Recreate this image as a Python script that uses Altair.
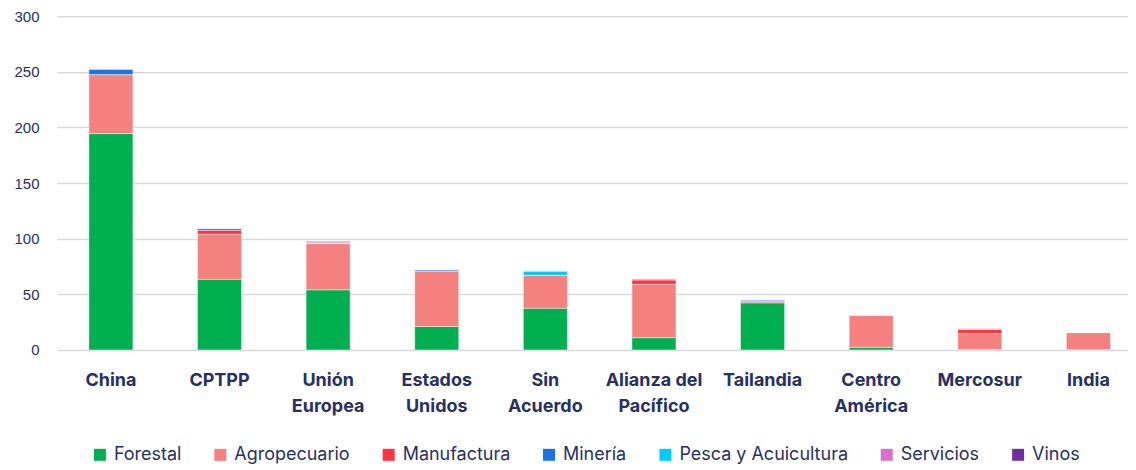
import altair as alt
import pandas as pd

categories = ["China", "CPTPP", "Unión|Europea", "Estados|Unidos", "Sin|Acuerdo",
              "Alianza del|Pacífico", "Tailandia", "Centro|América", "Mercosur", "India"]
series = ["Forestal", "Agropecuario", "Manufactura", "Minería",
          "Pesca y Acuicultura", "Servicios", "Vinos"]
colors = ["#00B050", "#F4817F", "#FF3341", "#1A74E2", "#00CCFF", "#D870CC", "#7030A0"]

forestal =     [194.5, 63.5, 54.0, 21.0, 37.5, 11.0, 42.3,  2.3,  0.5,  0.3]
agropecuario = [ 53.0, 40.5, 41.5, 50.0, 29.5, 48.0,  1.8, 29.2, 14.3, 15.3]
manufactura =  [  0.0,  3.5,  0.3,  0.0,  0.0,  3.8,  0.0,  0.0,  3.8,  0.0]
mineria =      [  5.0,  1.5,  0.4,  1.0,  0.0,  1.0,  0.8,  0.0,  0.0,  0.0]
pesca =        [  0.0,  0.3,  0.0,  0.2,  3.8,  0.0,  0.3,  0.0,  0.0,  0.0]
servicios =    [  0.3,  0.3,  0.6,  0.3,  0.4,  0.3,  0.2,  0.0,  0.0,  0.0]
vinos =        [  0.0,  0.0,  0.6,  0.0,  0.0,  0.0,  0.0,  0.0,  0.5,  0.0]

values = [forestal, agropecuario, manufactura, mineria, pesca, servicios, vinos]

rows = []
for si, (s, vals) in enumerate(zip(series, values)):
    for c, v in zip(categories, vals):
        rows.append({"cat": c, "serie": s, "valor": v, "orden": si})
df = pd.DataFrame(rows)

navy = "#262F66"

chart = alt.Chart(df).mark_bar(
    stroke="white", strokeWidth=0.8, strokeOpacity=0.5
).encode(
    x=alt.X("cat:N", sort=categories, title=None,
            scale=alt.Scale(paddingInner=0.595, paddingOuter=0.228, align=0.645),
            axis=alt.Axis(labelAngle=0, labelExpr="split(datum.label, '|')",
                          labelFont="Inter", labelFontSize=18, labelFontWeight="bold",
                          labelColor=navy, labelPadding=22, labelLineHeight=26,
                          ticks=False, domain=False, grid=False, labelBaseline="top")),
    y=alt.Y("valor:Q", stack="zero", title=None,
            scale=alt.Scale(domain=[0, 300], nice=False),
            axis=alt.Axis(values=[0, 50, 100, 150, 200, 250, 300], labelFont="Liberation Sans",
                          labelFontSize=15, labelColor=navy, labelPadding=18,
                          ticks=False, domain=False, gridColor="#D9D9D9", gridWidth=1.5)),
    color=alt.Color("serie:N", sort=series, title=None,
                    scale=alt.Scale(domain=series, range=colors),
                    legend=alt.Legend(orient="none", legendX=34, legendY=430,
                                      direction="horizontal",
                                      symbolType="square", symbolSize=144,
                                      symbolStrokeWidth=0, labelFont="Inter",
                                      labelFontSize=18, labelColor=navy, labelLimit=0,
                                      labelOffset=5, columnPadding=29.5)),
    order=alt.Order("orden:Q", sort="ascending"),
).properties(
    width=1072, height=334,
    padding={"top": 1, "left": 5, "right": 0, "bottom": 0}
).configure_view(stroke=None)

chart.save("out.html", embed_options={"renderer": "svg", "actions": False})
